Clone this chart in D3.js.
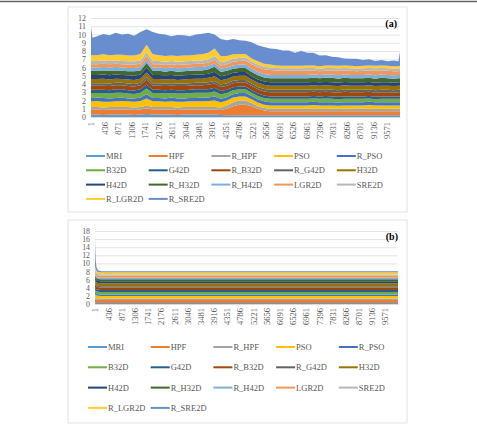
<!DOCTYPE html>
<html>
<head>
<meta charset="utf-8">
<script src="https://cdn.jsdelivr.net/npm/d3@7"></script>
<style>
  body { margin: 0; background: #fff; }
  text { font-family: "Liberation Serif", "DejaVu Serif", serif; fill: #595959; }
</style>
</head>
<body>
<svg id="fig" width="477" height="424"></svg>
<script>
// series, bottom of the stack first (Excel legend order)
var seriesNames = ["MRI", "HPF", "R_HPF", "PSO", "R_PSO", "B32D", "G42D", "R_B32D", "R_G42D",
  "H32D", "H42D", "R_H32D", "R_H42D", "LGR2D", "SRE2D", "R_LGR2D", "R_SRE2D"];
var seriesColors = ["#5B9BD5", "#ED7D31", "#A5A5A5", "#FFC000", "#4472C4", "#70AD47", "#255E91", "#9E480E",
  "#636363", "#997300", "#264478", "#43682B", "#7CAFDD", "#F1975A", "#B7B7B7", "#FFCD33", "#698ED0"];
var tickLabels = [1, 436, 871, 1306, 1741, 2176, 2611, 3046, 3481, 3916, 4351, 4786, 5221, 5656,
  6091, 6526, 6961, 7396, 7831, 8266, 8701, 9136, 9571];

// ---- panel (a): iteration index and values
var xA = [1, 50, 200, 400, 600, 800, 1000, 1200, 1400, 1600, 1800, 2000, 2200, 2400, 2600, 2800, 3000, 3200, 3400, 3600, 3800, 4000,
  4200, 4400, 4600, 4800, 5000, 5200, 5400, 5600, 5800, 6000, 6200, 6400, 6600,
  6800, 7000, 7200, 7400, 7600, 7800, 8000, 8200, 8400, 8600, 8800, 9000, 9200, 9400, 9600, 9800, 9950, 10000];
var mriA = [0.3,0.3,0.3,0.25,0.3,0.3,0.3,0.3,0.25,0.3,0.35,0.3,0.3,0.3,0.3,0.25,0.3,0.3,0.3,0.3,0.3,0.3,
  0.25,0.2,0.2,0.2,0.2,0.2,0.2,0.2,0.2,0.2,0.2,0.2,0.2,
  0.2,0.2,0.2,0.2,0.2,0.2,0.2,0.2,0.2,0.2,0.2,0.2,0.2,0.2,0.2,0.2,0.2,0.2];
var hpfA = [0.6,0.6,0.6,0.6,0.6,0.6,0.6,0.6,0.6,0.6,0.7,0.6,0.6,0.6,0.6,0.6,0.6,0.6,0.6,0.6,0.6,0.6,
  0.6,0.8,1.1,1.3,1.3,1.1,0.8,0.6,0.5,0.5,0.5,0.5,0.5,
  0.5,0.5,0.5,0.5,0.5,0.5,0.5,0.5,0.5,0.5,0.5,0.5,0.5,0.5,0.5,0.5,0.5,0.5];
var rhpfA = [0.3,0.3,0.3,0.3,0.3,0.3,0.3,0.3,0.3,0.3,0.35,0.3,0.3,0.3,0.3,0.3,0.3,0.3,0.3,0.3,0.3,0.3,
  0.3,0.4,0.5,0.5,0.5,0.4,0.3,0.3,0.3,0.3,0.3,0.3,0.3,
  0.3,0.3,0.3,0.3,0.3,0.3,0.3,0.3,0.3,0.3,0.3,0.3,0.3,0.3,0.3,0.3,0.3,0.3];
var psoA = [0.7,0.7,0.75,0.7,0.65,0.7,0.75,0.7,0.7,0.75,0.85,0.7,0.7,0.65,0.7,0.7,0.65,0.7,0.7,0.7,0.75,0.8,
  0.65,0.6,0.55,0.5,0.5,0.45,0.45,0.4,0.4,0.4,0.4,0.4,0.4,
  0.4,0.4,0.45,0.4,0.4,0.4,0.35,0.4,0.4,0.4,0.4,0.45,0.4,0.4,0.4,0.4,0.4,0.4];
var rpsoA = [0.4,0.4,0.4,0.45,0.4,0.4,0.4,0.35,0.4,0.4,0.5,0.4,0.4,0.4,0.45,0.4,0.4,0.4,0.4,0.45,0.4,0.5,
  0.4,0.4,0.4,0.4,0.4,0.4,0.4,0.4,0.4,0.4,0.4,0.4,0.4,
  0.4,0.4,0.4,0.4,0.4,0.4,0.4,0.4,0.4,0.4,0.4,0.4,0.4,0.4,0.4,0.4,0.4,0.4];
var b32dA = [0.6,0.6,0.55,0.6,0.6,0.65,0.6,0.6,0.55,0.6,0.7,0.6,0.6,0.6,0.55,0.6,0.6,0.6,0.65,0.6,0.6,0.6,
  0.55,0.5,0.5,0.45,0.45,0.4,0.4,0.4,0.4,0.4,0.4,0.4,0.4,
  0.4,0.4,0.4,0.4,0.45,0.4,0.4,0.4,0.4,0.4,0.4,0.4,0.35,0.4,0.4,0.4,0.4,0.4];
var g42dA = [0.4,0.4,0.4,0.4,0.4,0.4,0.4,0.4,0.4,0.4,0.5,0.4,0.4,0.4,0.4,0.4,0.4,0.4,0.4,0.4,0.4,0.45,
  0.4,0.4,0.35,0.35,0.35,0.3,0.3,0.3,0.3,0.3,0.3,0.3,0.3,
  0.3,0.3,0.3,0.3,0.3,0.3,0.3,0.3,0.3,0.3,0.3,0.3,0.3,0.3,0.3,0.3,0.3,0.3];
var rb32dA = [0.5,0.5,0.5,0.5,0.5,0.5,0.5,0.5,0.5,0.5,0.6,0.5,0.5,0.5,0.5,0.5,0.5,0.5,0.5,0.5,0.55,0.5,
  0.5,0.5,0.5,0.5,0.5,0.5,0.5,0.5,0.5,0.5,0.5,0.5,0.5,
  0.5,0.5,0.5,0.5,0.5,0.5,0.5,0.55,0.5,0.5,0.5,0.5,0.5,0.5,0.5,0.45,0.5,0.5];
var rg42dA = [0.3,0.3,0.3,0.3,0.3,0.3,0.3,0.3,0.3,0.3,0.3,0.3,0.3,0.3,0.3,0.3,0.3,0.3,0.3,0.3,0.3,0.3,
  0.3,0.3,0.3,0.3,0.3,0.3,0.3,0.3,0.3,0.3,0.3,0.3,0.3,
  0.3,0.3,0.3,0.3,0.3,0.3,0.3,0.3,0.3,0.3,0.3,0.3,0.3,0.3,0.3,0.3,0.3,0.3];
var h32dA = [0.5,0.5,0.5,0.55,0.5,0.5,0.45,0.5,0.5,0.5,0.55,0.5,0.5,0.5,0.5,0.45,0.5,0.5,0.5,0.5,0.55,0.6,
  0.5,0.5,0.5,0.5,0.5,0.5,0.5,0.5,0.5,0.5,0.5,0.5,0.5,
  0.5,0.5,0.5,0.5,0.5,0.5,0.5,0.5,0.5,0.5,0.5,0.5,0.5,0.5,0.5,0.5,0.5,0.5];
var h42dA = [0.5,0.5,0.5,0.5,0.5,0.5,0.5,0.5,0.5,0.5,0.6,0.5,0.5,0.5,0.5,0.5,0.5,0.5,0.5,0.5,0.5,0.55,
  0.5,0.5,0.45,0.45,0.45,0.4,0.4,0.4,0.4,0.4,0.4,0.4,0.4,
  0.4,0.4,0.4,0.4,0.4,0.4,0.4,0.4,0.4,0.4,0.4,0.4,0.4,0.4,0.4,0.4,0.4,0.4];
var rh32dA = [0.5,0.5,0.5,0.5,0.55,0.5,0.5,0.5,0.55,0.5,0.55,0.5,0.5,0.45,0.5,0.5,0.5,0.5,0.5,0.5,0.55,0.6,
  0.5,0.5,0.5,0.5,0.5,0.5,0.5,0.5,0.5,0.5,0.5,0.5,0.5,
  0.5,0.5,0.5,0.5,0.5,0.55,0.5,0.5,0.5,0.5,0.5,0.5,0.5,0.55,0.5,0.5,0.5,0.5];
var rh42dA = [0.4,0.4,0.4,0.4,0.4,0.4,0.4,0.4,0.4,0.4,0.4,0.4,0.4,0.4,0.4,0.4,0.4,0.4,0.4,0.4,0.4,0.4,
  0.4,0.4,0.4,0.4,0.4,0.4,0.4,0.4,0.4,0.4,0.4,0.4,0.4,
  0.4,0.4,0.4,0.4,0.4,0.4,0.4,0.4,0.4,0.4,0.4,0.4,0.4,0.4,0.4,0.4,0.4,0.4];
var lgr2dA = [0.4,0.4,0.4,0.4,0.4,0.4,0.4,0.4,0.4,0.4,0.45,0.4,0.4,0.4,0.4,0.4,0.4,0.4,0.4,0.4,0.4,0.4,
  0.4,0.4,0.45,0.45,0.5,0.55,0.6,0.6,0.6,0.55,0.5,0.5,0.5,
  0.5,0.55,0.5,0.45,0.5,0.5,0.55,0.5,0.5,0.45,0.5,0.5,0.55,0.5,0.5,0.5,0.45,0.5];
var sre2dA = [0.4,0.4,0.4,0.4,0.4,0.4,0.4,0.4,0.4,0.4,0.45,0.4,0.4,0.4,0.4,0.4,0.4,0.4,0.4,0.4,0.4,0.5,
  0.4,0.4,0.35,0.35,0.35,0.3,0.3,0.3,0.3,0.3,0.3,0.3,0.3,
  0.3,0.3,0.3,0.3,0.3,0.3,0.3,0.3,0.3,0.3,0.3,0.3,0.3,0.3,0.3,0.3,0.3,0.3];
var rlgr2dA = [0.7,0.7,0.7,0.75,0.7,0.7,0.75,0.7,0.7,0.8,0.9,0.8,0.7,0.7,0.65,0.7,0.7,0.65,0.7,0.75,0.8,0.9,
  0.7,0.6,0.55,0.5,0.45,0.4,0.4,0.35,0.35,0.3,0.3,0.3,0.3,
  0.3,0.3,0.3,0.3,0.3,0.3,0.3,0.3,0.3,0.3,0.3,0.3,0.3,0.3,0.3,0.3,0.3,0.3];
var rsre2dA = [3.4,2.1,2.3,2.45,2.4,2.65,2.45,2.65,2.4,2.65,1.9,2.7,2.6,2.6,2.35,2.55,2.45,2.35,2.45,2.5,2.4,1.7,
  2.1,1.9,1.85,1.65,1.6,1.95,1.95,2.05,1.95,2.0,1.85,1.85,1.6,
  1.8,1.55,1.55,1.3,1.25,1.05,1.05,0.85,0.85,0.9,0.7,0.75,0.6,0.65,0.55,0.7,0.6,1.7];

// ---- panel (b)
var xB = [1, 10, 25, 50, 100, 200, 400, 800, 1500, 3000, 5000, 7500, 10000];
var mriB = [0.3,0.3,0.28,0.26,0.25,0.25,0.25,0.25,0.25,0.25,0.25,0.25,0.25];
var hpfB = [0.95,0.9,0.85,0.8,0.78,0.75,0.75,0.75,0.75,0.75,0.75,0.75,0.75];
var rhpfB = [0.45,0.42,0.4,0.38,0.36,0.35,0.35,0.35,0.35,0.35,0.35,0.35,0.35];
var psoB = [0.8,0.75,0.72,0.7,0.67,0.65,0.65,0.65,0.65,0.65,0.65,0.65,0.65];
var rpsoB = [0.45,0.42,0.4,0.38,0.36,0.35,0.35,0.35,0.35,0.35,0.35,0.35,0.35];
var b32dB = [0.7,0.68,0.65,0.62,0.6,0.6,0.6,0.6,0.6,0.6,0.6,0.6,0.6];
var g42dB = [0.6,0.56,0.54,0.52,0.5,0.5,0.5,0.5,0.5,0.5,0.5,0.5,0.5];
var rb32dB = [0.7,0.68,0.65,0.62,0.6,0.6,0.6,0.6,0.6,0.6,0.6,0.6,0.6];
var rg42dB = [0.45,0.42,0.4,0.38,0.36,0.35,0.35,0.35,0.35,0.35,0.35,0.35,0.35];
var h32dB = [0.8,0.78,0.75,0.72,0.7,0.7,0.7,0.7,0.7,0.7,0.7,0.7,0.7];
var h42dB = [0.6,0.56,0.54,0.52,0.5,0.5,0.5,0.5,0.5,0.5,0.5,0.5,0.5];
var rh32dB = [0.6,0.56,0.54,0.52,0.5,0.5,0.5,0.5,0.5,0.5,0.5,0.5,0.5];
var rh42dB = [0.45,0.42,0.4,0.38,0.36,0.35,0.35,0.35,0.35,0.35,0.35,0.35,0.35];
var lgr2dB = [0.6,0.56,0.54,0.52,0.5,0.5,0.5,0.5,0.5,0.5,0.5,0.5,0.5];
var sre2dB = [0.45,0.42,0.4,0.38,0.36,0.35,0.35,0.35,0.35,0.35,0.35,0.35,0.35];
var rlgr2dB = [0.6,0.56,0.54,0.52,0.5,0.5,0.5,0.5,0.5,0.5,0.5,0.5,0.5];
var rsre2dB = [6.9,4.5,2.0,0.9,0.45,0.3,0.25,0.25,0.25,0.25,0.25,0.25,0.25];

var svg = d3.select("#fig");

// thin rule along the top of the figure
svg.append("line").attr("x1", 0).attr("x2", 477).attr("y1", 1.5).attr("y2", 1.5)
  .attr("stroke", "#666").attr("stroke-width", 1.5);

function drawPanel(p, xs, cols) {
  var rows = xs.map(function(v, i) {
    var r = { idx: v };
    seriesNames.forEach(function(k, j) { r[k] = cols[j][i]; });
    return r;
  });

  svg.append("rect").attr("x", p.frame[0]).attr("y", p.frame[1])
    .attr("width", p.frame[2]).attr("height", p.frame[3])
    .attr("fill", "#fff").attr("stroke", "#D9D9D9").attr("stroke-width", 0.75);

  var x = d3.scaleLinear().domain([1, 10000]).range([p.left, p.right]);
  var y = d3.scaleLinear().domain([0, p.yMax]).range([p.bottom, p.top]);

  // gridlines + y labels
  var ya = svg.append("g").attr("transform", "translate(" + p.left + ",0)")
    .call(d3.axisLeft(y).tickValues(d3.range(0, p.yMax + 0.01, p.yStep))
      .tickSize(-(p.right - p.left)).tickPadding(5));
  ya.select(".domain").remove();
  ya.selectAll(".tick line").attr("stroke", "#D9D9D9").attr("stroke-width", 0.75);
  ya.selectAll(".tick text").attr("font-size", p.yFont).attr("font-family", null);

  var stack = d3.stack().keys(seriesNames);
  var layers = stack(rows);
  var area = d3.area()
    .x(function(d) { return x(d.data.idx); })
    .y0(function(d) { return y(d[0]); })
    .y1(function(d) { return y(d[1]); });

  svg.append("g").selectAll("path")
    .data(layers)
    .enter().append("path")
    .attr("d", area)
    .attr("fill", function(d, i) { return seriesColors[i]; });

  // category axis, labels turned vertical
  var xa = svg.append("g").attr("transform", "translate(0," + p.bottom + ")")
    .call(d3.axisBottom(x).tickValues(tickLabels).tickSize(0).tickFormat(d3.format("d")));
  xa.select(".domain").attr("stroke", "#D9D9D9");
  xa.selectAll(".tick text")
    .attr("font-size", 8.5).attr("font-family", null)
    .attr("text-anchor", "end")
    .attr("transform", "translate(0," + p.tickGap + ") rotate(-90)")
    .attr("x", 0).attr("y", 0).attr("dy", "0.35em");

  // panel tag
  svg.append("text").attr("x", p.tag[0]).attr("y", p.tag[1])
    .attr("text-anchor", "end").attr("font-size", 10).attr("font-weight", "bold")
    .style("fill", "#000").text(p.tagText);

  // legend, five per row
  var lg = svg.append("g");
  seriesNames.forEach(function(name, i) {
    var cx = p.legX + (i % 5) * 62.7;
    var cy = p.legY + Math.floor(i / 5) * p.legGap;
    lg.append("line").attr("x1", cx).attr("x2", cx + 19).attr("y1", cy).attr("y2", cy)
      .attr("stroke", seriesColors[i]).attr("stroke-width", 2);
    lg.append("text").attr("x", cx + 20).attr("y", cy + 3).attr("font-size", 8.5).text(name);
  });
}

drawPanel({
  frame: [68, 7, 339, 205], left: 91, right: 400, top: 18, bottom: 117,
  yMax: 12, yStep: 1, yFont: 7.9, tickGap: 5, tag: [397, 27], tagText: "(a)",
  legX: 86, legY: 156, legGap: 14.3
}, xA, [mriA, hpfA, rhpfA, psoA, rpsoA, b32dA, g42dA, rb32dA, rg42dA, h32dA, h42dA, rh32dA, rh42dA, lgr2dA, sre2dA, rlgr2dA, rsre2dA]);

drawPanel({
  frame: [68, 220, 339, 203], left: 95, right: 398, top: 231, bottom: 304,
  yMax: 18, yStep: 2, yFont: 7.8, tickGap: 4, tag: [398, 240], tagText: "(b)",
  legX: 88, legY: 347, legGap: 20.3
}, xB, [mriB, hpfB, rhpfB, psoB, rpsoB, b32dB, g42dB, rb32dB, rg42dB, h32dB, h42dB, rh32dB, rh42dB, lgr2dB, sre2dB, rlgr2dB, rsre2dB]);
</script>
</body>
</html>
